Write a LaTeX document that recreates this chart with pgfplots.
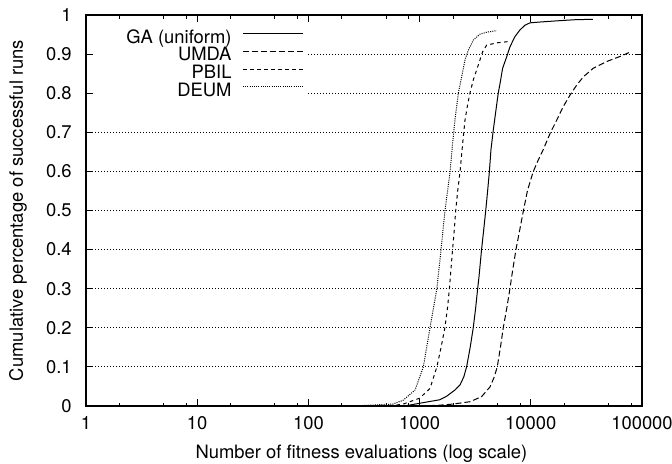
\documentclass[border=0pt]{standalone}
\usepackage{fontspec}
\setmainfont{TeX Gyre Heros}
\usepackage{pgfplots}
\pgfplotsset{compat=1.18}
\begin{document}%
\begin{tikzpicture}[font=\fontsize{9.2}{11}\selectfont]
\useasboundingbox (-43pt,-28.5pt) rectangle (293pt,203pt);
\begin{axis}[
  scale only axis, width=278pt, height=195.5pt,
  xmode=log, xmin=1, xmax=100000, ymin=0, ymax=1,
  /pgf/number format/assume math mode=true,
  xtick={1,10,100,1000,10000,100000},
  xticklabels={1,10,100,1000,10000,100000},
  minor xtick={2,5,8,20,50,80,200,500,800,2000,5000,8000,20000,50000,80000},
  ytick={0,0.1,0.2,0.3,0.4,0.5,0.6,0.7,0.8,0.9,1},
  yticklabels={0,0.1,0.2,0.3,0.4,0.5,0.6,0.7,0.8,0.9,1},
  tick pos=both, tick align=inside,
  major tick length=3.5pt, minor tick length=1.75pt,
  tick style={black, line width=0.5pt},
  axis line style={black, line width=0.8pt},
  ymajorgrids,
  major grid style={black, line width=0.45pt, dash pattern=on 0.5pt off 1pt},
  xticklabel style={anchor=center, inner sep=0pt, yshift=-8.5pt},
  yticklabel style={anchor=east, inner sep=0pt, xshift=-7pt},
  xlabel={Number of fitness evaluations (log scale)},
  ylabel={Cumulative percentage of successful runs},
  every axis x label/.style={at={(axis description cs:0.4955,-0.1228)}, anchor=center},
  every axis y label/.style={at={(axis description cs:-0.1223,0.5)}, anchor=center, rotate=90},
  legend cell align=right, legend plot pos=right,
  legend image code/.code={\draw[#1] (0pt,3pt) -- (30pt,3pt);},
  legend style={at={(axis description cs:0.0135,0.9616)}, anchor=north west,
    fill=white, draw=none, inner xsep=2pt, inner ysep=0.3pt, outer sep=0pt,
    row sep=0pt, column sep=5.5pt,
    nodes={inner sep=0pt, text height=6.2pt, text depth=2.7pt}},
]
\addplot[black, line width=0.5pt] coordinates {
(700,0) (800,0.002) (1000,0.007) (1200,0.011) (1520,0.016) (1750,0.025) (2080,0.041) (2310,0.054) (2500,0.075) (2650,0.101) (2850,0.15) (3040,0.201) (3190,0.25) (3330,0.301) (3420,0.33) (3610,0.401) (3770,0.45) (3930,0.499) (4090,0.55) (4240,0.599) (4380,0.655) (4600,0.706) (4850,0.755) (5100,0.801) (5290,0.825) (5580,0.864) (6070,0.893) (6500,0.919) (7210,0.945) (8000,0.962) (8870,0.974) (9840,0.980) (12000,0.982) (17000,0.985) (25000,0.988) (36200,0.989)
};
\addlegendentry{\makebox[67pt][r]{GA (uniform)}}
\addplot[black, line width=0.5pt, dash pattern=on 3pt off 1.5pt] coordinates {
(1000,0) (1500,0.002) (2000,0.005) (2840,0.011) (3610,0.024) (4300,0.049) (4700,0.075) (5000,0.101) (5330,0.15) (5660,0.201) (6080,0.25) (6500,0.301) (6730,0.331) (7360,0.401) (7950,0.45) (8570,0.499) (9350,0.552) (10500,0.599) (11700,0.63) (12900,0.655) (14900,0.697) (17100,0.731) (19600,0.766) (22500,0.795) (25900,0.821) (29700,0.842) (36500,0.864) (48100,0.881) (63400,0.894) (78000,0.905)
};
\addlegendentry{\makebox[67pt][r]{UMDA}}
\addplot[black, line width=0.5pt, dash pattern=on 1.75pt off 1.75pt] coordinates {
(400,0) (600,0.002) (714,0.005) (1000,0.02) (1240,0.045) (1430,0.1) (1560,0.15) (1690,0.201) (1780,0.25) (1855,0.301) (1980,0.401) (2050,0.45) (2110,0.499) (2200,0.55) (2310,0.599) (2440,0.672) (2560,0.731) (2700,0.77) (2840,0.801) (3040,0.834) (3370,0.872) (3690,0.906) (4010,0.923) (5000,0.929) (6280,0.932)
};
\addlegendentry{\makebox[67pt][r]{PBIL}}
\addplot[black, line width=0.5pt, dash pattern=on 0.5pt off 0.6pt] coordinates {
(200,0) (300,0.001) (575,0.005) (714,0.015) (910,0.041) (1080,0.1) (1240,0.2) (1430,0.3) (1560,0.401) (1690,0.499) (1880,0.599) (1980,0.672) (2080,0.731) (2230,0.801) (2390,0.842) (2560,0.885) (2740,0.91) (3040,0.936) (3490,0.951) (4000,0.956) (4930,0.960)
};
\addlegendentry{\makebox[67pt][r]{DEUM}}
\end{axis}
\end{tikzpicture}%
\end{document}
